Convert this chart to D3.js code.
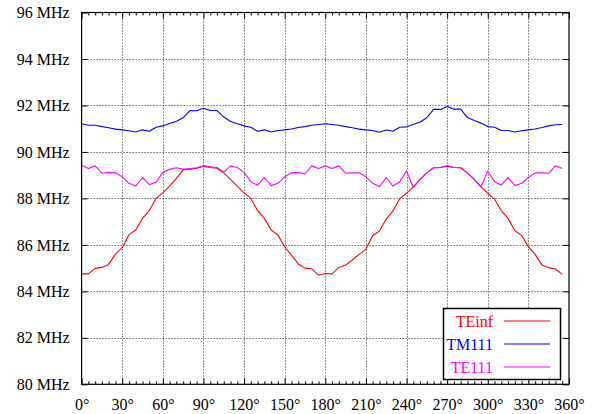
<!DOCTYPE html>
<html><head><meta charset="utf-8">
<script src="https://cdn.jsdelivr.net/npm/d3@7"></script>
<style>body{margin:0;background:#fff}svg text{font-family:'Liberation Serif','Times New Roman',Times,'DejaVu Serif',serif !important}</style>
</head><body><svg id="c" width="595" height="414"></svg>
<script>
const angles = d3.range(0, 360, 5);
const teinf = [84.75,84.75,84.99,85.03,85.16,85.6,85.88,86.44,86.64,87.14,87.47,88.0,88.24,88.53,88.86,89.22,89.26,89.3,89.39,89.33,89.3,89.1,88.82,88.53,88.24,88.0,87.47,87.14,86.64,86.42,85.92,85.56,85.18,85.0,84.97,84.7,
  84.77,84.75,85.03,85.13,85.35,85.59,85.82,86.39,86.6,87.11,87.46,87.99,88.22,88.5,88.82,89.1,89.32,89.33,89.4,89.33,89.32,89.1,88.82,88.5,88.22,87.97,87.47,87.14,86.61,86.41,85.92,85.59,85.13,85.02,84.96,84.73];
const tm111 = [91.21,91.15,91.15,91.09,91.04,90.98,90.95,90.91,90.86,90.95,90.89,91.06,91.12,91.22,91.32,91.47,91.78,91.77,91.88,91.78,91.78,91.5,91.31,91.21,91.12,91.06,90.89,90.95,90.86,90.92,90.95,90.99,91.05,91.09,91.15,91.18,
  91.21,91.18,91.15,91.09,91.04,90.98,90.95,90.92,90.85,90.94,90.89,91.06,91.08,91.18,91.29,91.47,91.83,91.83,91.96,91.84,91.84,91.48,91.35,91.24,91.09,91.06,90.92,90.92,90.86,90.91,90.95,90.99,91.05,91.12,91.17,91.18];
const te111 = [89.43,89.29,89.4,89.08,89.12,89.1,88.93,88.65,88.53,88.9,88.59,88.7,89.12,89.25,89.32,89.25,89.29,89.32,89.4,89.36,89.33,89.13,89.4,89.33,89.12,88.72,88.57,88.9,88.55,88.65,88.93,89.1,89.12,89.05,89.4,89.29,
  89.4,89.29,89.4,89.08,89.1,89.1,88.93,88.65,88.5,88.9,88.53,88.72,89.18,88.47,88.82,89.1,89.32,89.33,89.4,89.33,89.32,89.1,88.82,88.5,89.18,88.72,88.57,88.9,88.55,88.65,88.9,89.1,89.1,89.08,89.4,89.29];
const xTicks = d3.range(0, 361, 30);
const yTicks = d3.range(80, 97, 2);
const seriesNames = ["TEinf","TM111","TE111"];
const seriesColors = ["#ff0000","#0000ff","#ff00ff"];
const seriesData = [teinf, tm111, te111];

const svg = d3.select("#c");
const L = 81.6, R = 569, T = 12.5, B = 384.3;
const x = d3.scaleLinear().domain([0,360]).range([L,R]);
const y = d3.scaleLinear().domain([80,96]).range([B,T]);

// grid
const g = svg.append("g");
g.selectAll(".gx").data(xTicks.slice(1,-1)).enter().append("line")
  .attr("x1",d=>Math.round(x(d))+0.5).attr("x2",d=>Math.round(x(d))+0.5).attr("y1",T).attr("y2",B)
  .attr("stroke","#222").attr("stroke-width",1).attr("stroke-dasharray","1,2");
g.selectAll(".gy").data(yTicks.slice(1,-1)).enter().append("line")
  .attr("y1",d=>Math.round(y(d))+0.5).attr("y2",d=>Math.round(y(d))+0.5).attr("x1",L).attr("x2",R)
  .attr("stroke","#222").attr("stroke-width",1).attr("stroke-dasharray","1,2");

// axes with inward ticks
const axB = d3.axisBottom(x).tickValues(xTicks).tickSize(-6).tickPadding(14).tickFormat(d=>d+"°");
const axT = d3.axisTop(x).tickValues(xTicks).tickSize(-6).tickFormat("");
const axL = d3.axisLeft(y).tickValues(yTicks).tickSize(-6).tickPadding(12).tickFormat(d=>d+" MHz");
const axR = d3.axisRight(y).tickValues(yTicks).tickSize(-6).tickFormat("");
const minor = d3.range(0, 361, 5).filter(d=>d%30!==0);
const axBm = d3.axisBottom(x).tickValues(minor).tickSize(-3).tickFormat("");
const axTm = d3.axisTop(x).tickValues(minor).tickSize(-3).tickFormat("");
function styleAx(sel){ sel.attr("font-family",null); sel.select(".domain").remove(); sel.selectAll("line").attr("stroke","#000"); sel.selectAll("text").attr("font-size",16).attr("fill","#000"); }
svg.append("g").attr("transform",`translate(0,${B})`).call(axB).call(styleAx);
svg.append("g").attr("transform",`translate(0,${B})`).call(axBm).call(styleAx);
svg.append("g").attr("transform",`translate(0,${T})`).call(axT).call(styleAx);
svg.append("g").attr("transform",`translate(0,${T})`).call(axTm).call(styleAx);
svg.append("g").attr("transform",`translate(${L},0)`).call(axL).call(styleAx);
svg.append("g").attr("transform",`translate(${R},0)`).call(axR).call(styleAx);

// lines
const line = d3.line().x((d,i)=>x(angles[i])).y(d=>y(d));
seriesData.forEach((s,k)=>{
  svg.append("path").datum(s).attr("d",line).attr("fill","none")
    .attr("stroke",seriesColors[k]).attr("stroke-width",1.1).attr("stroke-linejoin","round");
});

// border
svg.append("rect").attr("x",L).attr("y",T).attr("width",R-L).attr("height",B-T)
  .attr("fill","none").attr("stroke","#000").attr("stroke-width",1.2);

// legend
const lg = svg.append("g");
lg.append("rect").attr("x",443.5).attr("y",308.5).attr("width",117).attr("height",71)
  .attr("fill","#fff").attr("stroke","#000").attr("stroke-width",1.5);
seriesNames.forEach((n,k)=>{
  const yy = 321 + k*23;
  lg.append("text").attr("x",493).attr("y",yy).attr("dy","0.35em").attr("text-anchor","end")
    .attr("font-size",16).attr("fill",seriesColors[k]).text(n);
  lg.append("line").attr("x1",504).attr("x2",550).attr("y1",yy).attr("y2",yy)
    .attr("stroke",seriesColors[k]).attr("stroke-width",1.1);
});
</script></body></html>
